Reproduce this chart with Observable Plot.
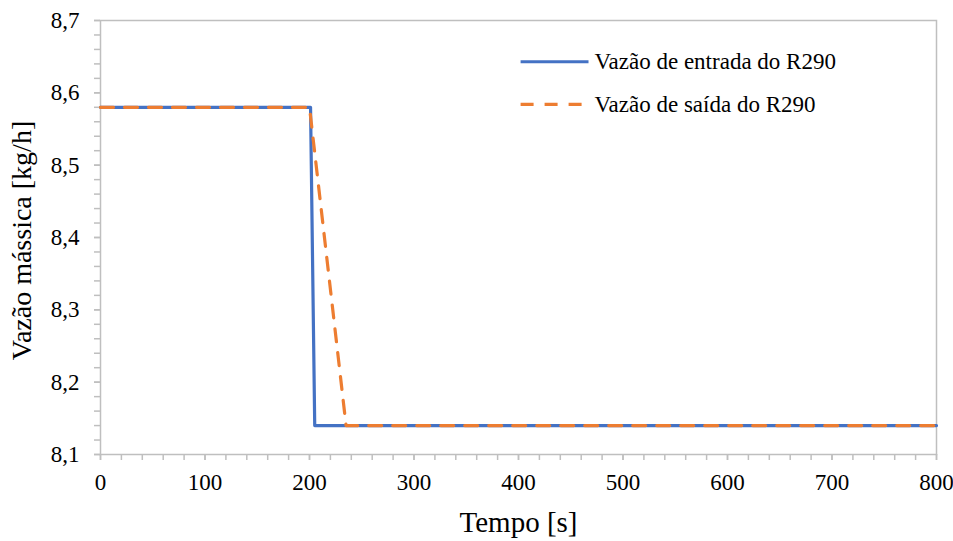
<!DOCTYPE html>
<html>
<head>
<meta charset="utf-8">
<script src="https://cdn.jsdelivr.net/npm/d3@7"></script>
<script src="https://cdn.jsdelivr.net/npm/@observablehq/plot@0.6"></script>
<style>
  html, body { margin: 0; padding: 0; background: #fff; }
  #chart svg { display: block; }
</style>
</head>
<body>
<div id="chart"></div>
<script>
// Data
const seriesNames = ["Vazão de entrada do R290", "Vazão de saída do R290"];
const inletTime = [0, 201, 205, 800];
const inletFlow = [8.58, 8.58, 8.14, 8.14];
const outletTime = [0, 200, 235, 800];
const outletFlow = [8.58, 8.58, 8.14, 8.14];
const xMajorTicks = [0, 100, 200, 300, 400, 500, 600, 700, 800];
const yMajorTicks = [8.1, 8.2, 8.3, 8.4, 8.5, 8.6, 8.7];
const xTitle = "Tempo [s]";
const yTitle = "Vazão mássica [kg/h]";

const blue = "#4472C4";
const orange = "#ED7D31";
const gray = "#bfbfbf";
const serif = "Liberation Serif";
const dash = "13,11";

const inlet = inletTime.map((t, i) => ({t, v: inletFlow[i]}));
const outlet = outletTime.map((t, i) => ({t, v: outletFlow[i]}));
const xMinor = d3.range(0, 801, 20);
const yMinor = d3.range(0, 31).map(i => 8.1 + i * 0.02);
const fmtComma = d => d3.format(".1f")(d).replace(".", ",");

// legend rows placed in data space
const legendIn = [{x1: 402, x2: 467, y: 8.643, name: seriesNames[0]}];
const legendOut = [{x1: 402, x2: 467, y: 8.584, name: seriesNames[1]}];

const chart = Plot.plot({
  width: 953,
  height: 541,
  marginLeft: 100,
  marginRight: 17,
  marginTop: 20,
  marginBottom: 87,
  style: {fontFamily: serif, fontSize: "23px", color: "#000", background: "#fff"},
  x: {domain: [0, 800]},
  y: {domain: [8.1, 8.7]},
  marks: [
    Plot.frame({stroke: gray, strokeWidth: 1.5}),
    Plot.axisX({ticks: xMinor, tickSize: 6, tickFormat: () => "", stroke: gray, strokeWidth: 1.5, label: null}),
    Plot.axisX({ticks: xMajorTicks, tickSize: 6, tickPadding: 13, stroke: gray, strokeWidth: 1.5, fill: "#000", fontSize: 23, fontFamily: serif, tickFormat: d => String(d), label: null}),
    Plot.axisY({ticks: yMinor, tickSize: 6, tickFormat: () => "", stroke: gray, strokeWidth: 1.5, label: null}),
    Plot.axisY({ticks: yMajorTicks, tickSize: 6, tickPadding: 15, stroke: gray, strokeWidth: 1.5, fill: "#000", fontSize: 23, fontFamily: serif, tickFormat: fmtComma, label: null}),
    Plot.line(inlet, {x: "t", y: "v", stroke: blue, strokeWidth: 3.2}),
    Plot.line(outlet, {x: "t", y: "v", stroke: orange, strokeWidth: 3.2, strokeDasharray: dash}),
    Plot.link(legendIn, {x1: "x1", x2: "x2", y1: "y", y2: "y", stroke: blue, strokeWidth: 3.2}),
    Plot.link(legendOut, {x1: "x1", x2: "x2", y1: "y", y2: "y", stroke: orange, strokeWidth: 3.2, strokeDasharray: dash}),
    Plot.text(legendIn, {x: "x2", y: "y", text: "name", dx: 6, textAnchor: "start", fontSize: 23, fontFamily: serif, fill: "#000"}),
    Plot.text(legendOut, {x: "x2", y: "y", text: "name", dx: 6, textAnchor: "start", fontSize: 23, fontFamily: serif, fill: "#000"}),
    Plot.text([xTitle], {frameAnchor: "bottom", dy: 68, lineAnchor: "middle", textAnchor: "middle", fontSize: 29, fontFamily: serif, fill: "#000"}),
    Plot.text([yTitle], {frameAnchor: "left", dx: -78, dy: 3, rotate: -90, textAnchor: "middle", lineAnchor: "middle", fontSize: 28, fontFamily: serif, fill: "#000"})
  ]
});
document.getElementById("chart").append(chart);
</script>
</body>
</html>
